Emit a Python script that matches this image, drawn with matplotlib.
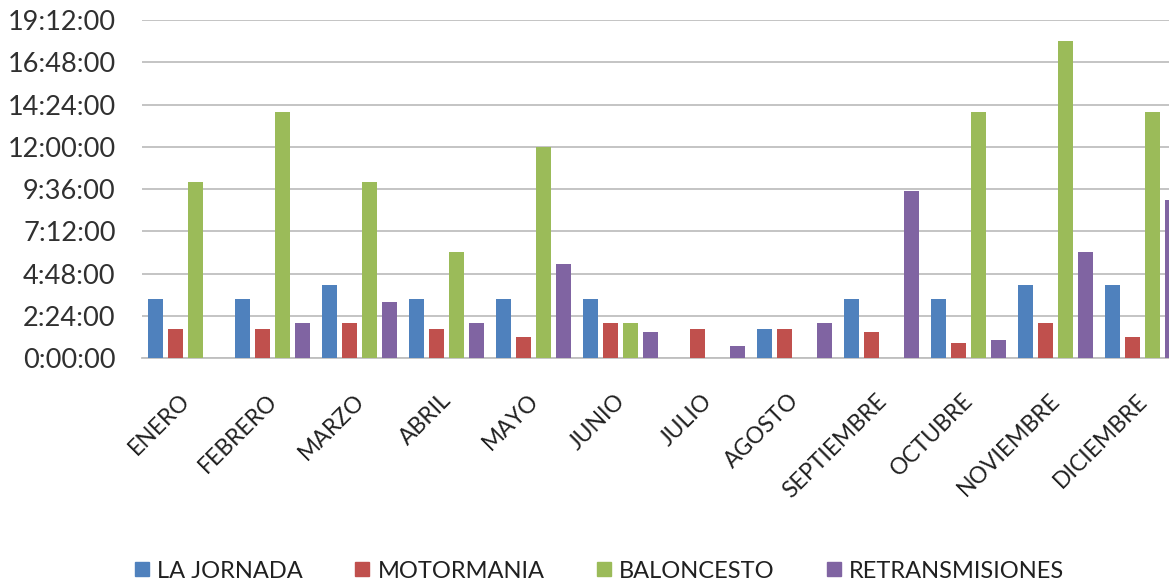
import matplotlib
matplotlib.use("Agg")
import matplotlib.pyplot as plt
import matplotlib.transforms as mtransforms
import numpy as np
from matplotlib.ticker import FuncFormatter, MultipleLocator
from matplotlib.lines import Line2D

months = ["ENERO", "FEBRERO", "MARZO", "ABRIL", "MAYO", "JUNIO", "JULIO",
          "AGOSTO", "SEPTIEMBRE", "OCTUBRE", "NOVIEMBRE", "DICIEMBRE"]
series_names = ["LA JORNADA", "MOTORMANIA", "BALONCESTO", "RETRANSMISIONES"]
# values in hours
la_jornada = [3.33, 3.33, 4.17, 3.33, 3.33, 3.33, 0, 1.67, 3.33, 3.33, 4.17, 4.17]
motormania = [1.67, 1.67, 2.0, 1.67, 1.2, 2.0, 1.67, 1.67, 1.5, 0.83, 2.0, 1.2]
baloncesto = [10, 14, 10, 6, 12, 2, 0, 0, 0, 14, 18, 14]
retransmisiones = [0, 2, 3.2, 2, 5.33, 1.5, 0.7, 2, 9.5, 1, 6, 9]
colors = ["#4F81BD", "#C0504D", "#9BBB59", "#8064A2"]

plt.rcParams['font.family'] = ['Lato', 'DejaVu Sans']

W, H = 1169, 585
fig = plt.figure(figsize=(W / 100, H / 100), dpi=100)
left_px, right_px, top_px, bot_px = 142, 1186, 20, 358
ax = fig.add_axes([left_px / W, (H - bot_px) / H, (right_px - left_px) / W, (bot_px - top_px) / H])

x = np.arange(len(months))
step = 0.23
bw = 0.175
data = [la_jornada, motormania, baloncesto, retransmisiones]
for i, (vals, c, name) in enumerate(zip(data, colors, series_names)):
    ax.bar(x + (i - 1.5) * step, vals, width=bw, color=c, label=name, zorder=3)

ax.set_xlim(-0.5, len(months) - 0.5)
ax.set_ylim(0, 19.2)
ax.yaxis.set_major_locator(MultipleLocator(2.4))

def fmt(v, pos):
    total = int(round(v * 3600))
    h = total // 3600
    m = (total % 3600) // 60
    s = total % 60
    return f"{h}:{m:02d}:{s:02d}"

ax.yaxis.set_major_formatter(FuncFormatter(fmt))
ax.grid(axis='y', color='#BFBFBF', linewidth=1.3, zorder=0)
for sp in ["top", "right", "left"]:
    ax.spines[sp].set_visible(False)
ax.spines["bottom"].set_color("#BFBFBF")
ax.spines["bottom"].set_linewidth(1.3)
ax.tick_params(axis='y', length=0, pad=19, labelsize=19.5, labelcolor='#303030')
ax.tick_params(axis='x', length=0, pad=23, labelsize=16.5, labelcolor='#202020')
ax.set_xticks(x)
ax.set_xticklabels(months, rotation=45, ha='right', rotation_mode='anchor')
offset = mtransforms.ScaledTranslation(-6 / 100, 0, fig.dpi_scale_trans)
for lbl in ax.get_xticklabels():
    lbl.set_transform(lbl.get_transform() + offset)

handles = [Line2D([0], [0], marker='s', linestyle='None', markersize=10.5,
                  markerfacecolor=c, markeredgecolor=c) for c in colors]
fig.legend(handles, series_names, loc='center', bbox_to_anchor=(599 / W, 14 / H), ncol=4,
           frameon=False, fontsize=17, handletextpad=0.3, columnspacing=2.15,
           labelcolor='#202020', handlelength=0.7)

fig.savefig("out.png", dpi=100)
